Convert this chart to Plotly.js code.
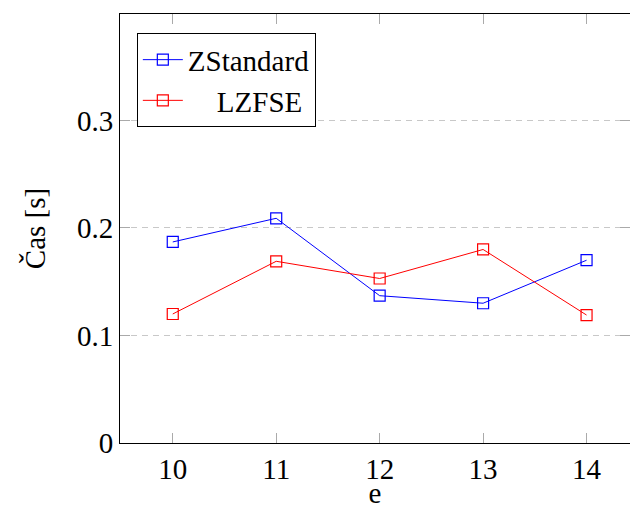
<!DOCTYPE html>
<html><head><meta charset="utf-8">
<script src="https://cdn.plot.ly/plotly-3.0.1.min.js"></script>
<style>
body{margin:0;padding:0;}
#chart{width:630px;height:509px;}
#chart svg text{font-family:'Liberation Serif','Times New Roman',serif !important;}
</style>
</head><body>
<div id="chart"></div>
<script>
const xValues = [10, 11, 12, 13, 14];
const zstandard = [0.187, 0.209, 0.137, 0.130, 0.170];
const lzfse = [0.120, 0.169, 0.153, 0.180, 0.119];
const seriesNames = ['ZStandard', 'LZFSE'];
const yTicks = [0, 0.1, 0.2, 0.3];
const yTickLabels = ['0', '0.1', '0.2', '0.3'];

const FF = "'Liberation Serif', 'Times New Roman', serif";
const mk = (c) => ({symbol: 'square-open', size: 11, color: c, line: {width: 1.2, color: c}});

const traces = [
  {x: xValues, y: zstandard, name: seriesNames[0], mode: 'lines+markers', line: {color: '#0000ff', width: 1}, marker: mk('#0000ff')},
  {x: xValues, y: lzfse, name: '    ' + seriesNames[1], mode: 'lines+markers', line: {color: '#ff0000', width: 1}, marker: mk('#ff0000')}
];

const layout = {
  width: 630, height: 509,
  margin: {l: 120, r: 0, t: 14, b: 66},
  paper_bgcolor: '#fff', plot_bgcolor: '#fff',
  font: {family: FF, size: 29, color: '#000'},
  showlegend: true,
  legend: {x: 0.033, y: 0.955, xanchor: 'left', yanchor: 'top', bordercolor: '#000', borderwidth: 1, bgcolor: '#fff', tracegroupgap: 0, itemwidth: 40},
  xaxis: {
    range: [9.49, 14.42], tickvals: xValues, ticks: 'inside', ticklen: 10, tickcolor: '#aaa', tickwidth: 1,
    showline: true, linecolor: '#000', linewidth: 1, mirror: 'ticks', showgrid: false, zeroline: false,
    title: {text: 'e', standoff: 14, font: {family: FF, size: 29, color: '#000'}}, automargin: false
  },
  yaxis: {
    range: [0, 0.399], tickvals: yTicks, ticktext: yTickLabels, ticks: 'inside', ticklen: 10, tickcolor: '#aaa', tickwidth: 1,
    showline: true, linecolor: '#000', linewidth: 1, mirror: 'ticks',
    showgrid: true, gridcolor: '#c8c8c8', griddash: '6px,5px', gridwidth: 1, zeroline: false,
    title: {text: 'Čas [s]', standoff: 22, font: {family: FF, size: 29, color: '#000'}}, automargin: false
  }
};
Plotly.newPlot('chart', traces, layout, {displayModeBar: false, staticPlot: true});
</script></body></html>
